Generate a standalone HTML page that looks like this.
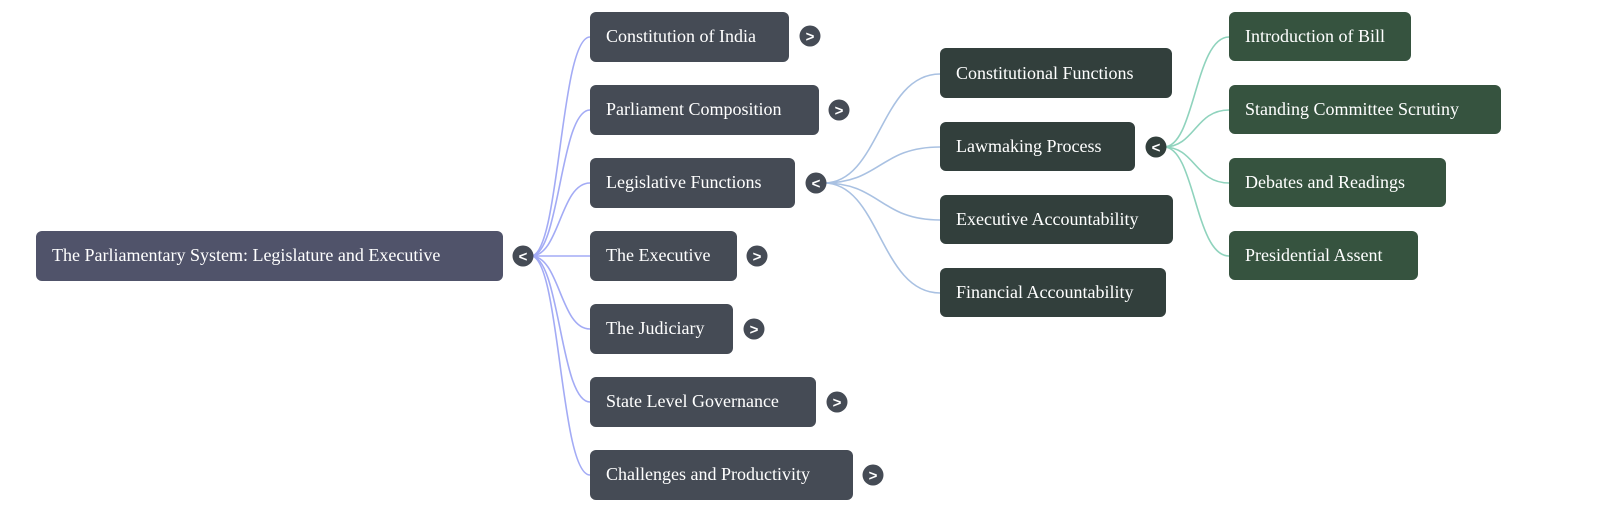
<!DOCTYPE html>
<html><head><meta charset="utf-8"><style>
html,body{margin:0;padding:0;background:#fff;}
svg{display:block;font-family:"Liberation Serif",serif;}
</style></head><body>
<svg width="1600" height="522" viewBox="0 0 1600 522" xmlns="http://www.w3.org/2000/svg">
<g fill="none" stroke-width="1.6">
<g stroke="#a3abf5">
<path d="M531 256 C560 256,560 37,590 37"/>
<path d="M531 256 C560 256,560 110,590 110"/>
<path d="M531 256 C560 256,560 183,590 183"/>
<path d="M531 256 L590 256"/>
<path d="M531 256 C560 256,560 329,590 329"/>
<path d="M531 256 C560 256,560 402,590 402"/>
<path d="M531 256 C560 256,560 475,590 475"/>
</g>
<g stroke="#a9c1e2">
<path d="M824 183 C880 183,880 74,940 74"/>
<path d="M824 183 C880 183,880 147,940 147"/>
<path d="M824 183 C880 183,880 220,940 220"/>
<path d="M824 183 C880 183,880 293,940 293"/>
</g>
<g stroke="#8fd3bd">
<path d="M1164 147 C1195 147,1195 37,1229 37"/>
<path d="M1164 147 C1195 147,1195 110,1229 110"/>
<path d="M1164 147 C1195 147,1195 183,1229 183"/>
<path d="M1164 147 C1195 147,1195 256,1229 256"/>
</g>
</g>
<g font-size="18" fill="#fff">
<rect x="36" y="231" width="467" height="50" rx="6" fill="#50536a"/>
<text x="52" y="261">The Parliamentary System: Legislature and Executive</text>

<g fill="#454b55">
<rect x="590" y="12" width="199" height="50" rx="6"/>
<rect x="590" y="85" width="229" height="50" rx="6"/>
<rect x="590" y="158" width="205" height="50" rx="6"/>
<rect x="590" y="231" width="147" height="50" rx="6"/>
<rect x="590" y="304" width="143" height="50" rx="6"/>
<rect x="590" y="377" width="226" height="50" rx="6"/>
<rect x="590" y="450" width="263" height="50" rx="6"/>
</g>
<text x="606" y="42">Constitution of India</text>
<text x="606" y="115">Parliament Composition</text>
<text x="606" y="188">Legislative Functions</text>
<text x="606" y="261">The Executive</text>
<text x="606" y="334">The Judiciary</text>
<text x="606" y="407">State Level Governance</text>
<text x="606" y="480">Challenges and Productivity</text>

<g fill="#323f3c">
<rect x="940" y="48" width="232" height="50" rx="6"/>
<rect x="940" y="122" width="195" height="49" rx="6"/>
<rect x="940" y="195" width="233" height="49" rx="6"/>
<rect x="940" y="268" width="226" height="49" rx="6"/>
</g>
<text x="956" y="79">Constitutional Functions</text>
<text x="956" y="152">Lawmaking Process</text>
<text x="956" y="225">Executive Accountability</text>
<text x="956" y="298">Financial Accountability</text>

<g fill="#36533f">
<rect x="1229" y="12" width="182" height="49" rx="6"/>
<rect x="1229" y="85" width="272" height="49" rx="6"/>
<rect x="1229" y="158" width="217" height="49" rx="6"/>
<rect x="1229" y="231" width="189" height="49" rx="6"/>
</g>
<text x="1245" y="42">Introduction of Bill</text>
<text x="1245" y="115">Standing Committee Scrutiny</text>
<text x="1245" y="188">Debates and Readings</text>
<text x="1245" y="261">Presidential Assent</text>
</g>

<g font-family="Liberation Sans, sans-serif" font-size="15" font-weight="bold" fill="#fff" text-anchor="middle">
<circle cx="523" cy="256" r="10.5" fill="#454b55"/><text x="523" y="261.5">&lt;</text>
<circle cx="810" cy="36" r="10.5" fill="#454b55"/><text x="810" y="41.5">&gt;</text>
<circle cx="839" cy="110" r="10.5" fill="#454b55"/><text x="839" y="115.5">&gt;</text>
<circle cx="816" cy="183" r="10.5" fill="#454b55"/><text x="816" y="188.5">&lt;</text>
<circle cx="757" cy="256" r="10.5" fill="#454b55"/><text x="757" y="261.5">&gt;</text>
<circle cx="754" cy="329" r="10.5" fill="#454b55"/><text x="754" y="334.5">&gt;</text>
<circle cx="837" cy="402" r="10.5" fill="#454b55"/><text x="837" y="407.5">&gt;</text>
<circle cx="873" cy="475" r="10.5" fill="#454b55"/><text x="873" y="480.5">&gt;</text>
<circle cx="1156" cy="147" r="10.5" fill="#323f3c"/><text x="1156" y="152.5">&lt;</text>
</g>
</svg>
</body></html>
